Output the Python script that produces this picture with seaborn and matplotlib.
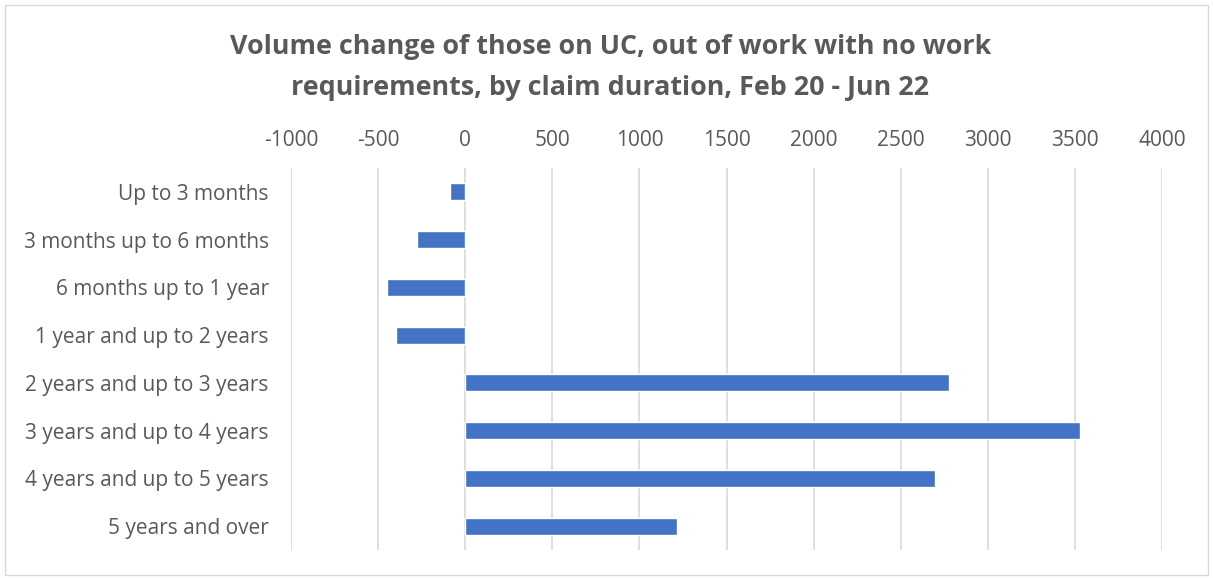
import matplotlib
matplotlib.use('Agg')
import matplotlib.pyplot as plt
import seaborn as sns
import pandas as pd
from matplotlib.patches import Rectangle

# Data
durations = ['Up to 3 months', '3 months up to 6 months', '6 months up to 1 year',
             '1 year and up to 2 years', '2 years and up to 3 years',
             '3 years and up to 4 years', '4 years and up to 5 years', '5 years and over']
volume_change = [-90, -275, -450, -395, 2780, 3530, 2695, 1215]
x_ticks = [-1000, -500, 0, 500, 1000, 1500, 2000, 2500, 3000, 3500, 4000]

df = pd.DataFrame({'duration': durations, 'change': volume_change})

sns.set_style('white')
plt.rcParams['font.family'] = ['Open Sans', 'DejaVu Sans']
text_col = '#595959'

W, H = 1213, 578
fig = plt.figure(figsize=(W / 100, H / 100), dpi=100)
ax = fig.add_axes([291 / W, (H - 550) / H, (1162 - 291) / W, (550 - 168) / H])

sns.barplot(data=df, x='change', y='duration', orient='h', color='#4472C4',
            width=0.36, saturation=1, ax=ax)

ax.set_xlim(-1000, 4000)
ax.set_xticks(x_ticks)
ax.set_xticklabels([str(t) for t in x_ticks])
ax.xaxis.tick_top()
ax.grid(axis='x', color='#D9D9D9', linewidth=1.2)
ax.set_axisbelow(True)
ax.tick_params(axis='x', length=0, pad=12.5, labelsize=15, labelcolor=text_col)
ax.tick_params(axis='y', length=0, pad=16, labelsize=15, labelcolor=text_col)
ax.set_xlabel('')
ax.set_ylabel('')
for s in ax.spines.values():
    s.set_visible(False)

fig.text(0.503, 0.884, 'Volume change of those on UC, out of work with no work\n'
         'requirements, by claim duration, Feb 20 - Jun 22',
         ha='center', va='center', fontsize=19.4, fontweight='bold',
         color=text_col, linespacing=1.75)

# chart frame
fig.patches.append(Rectangle((5 / W, 3 / H), (W - 10) / W, (H - 8) / H,
                             transform=fig.transFigure, fill=False,
                             edgecolor='#D9D9D9', linewidth=1))

fig.savefig('out.png', dpi=100)
